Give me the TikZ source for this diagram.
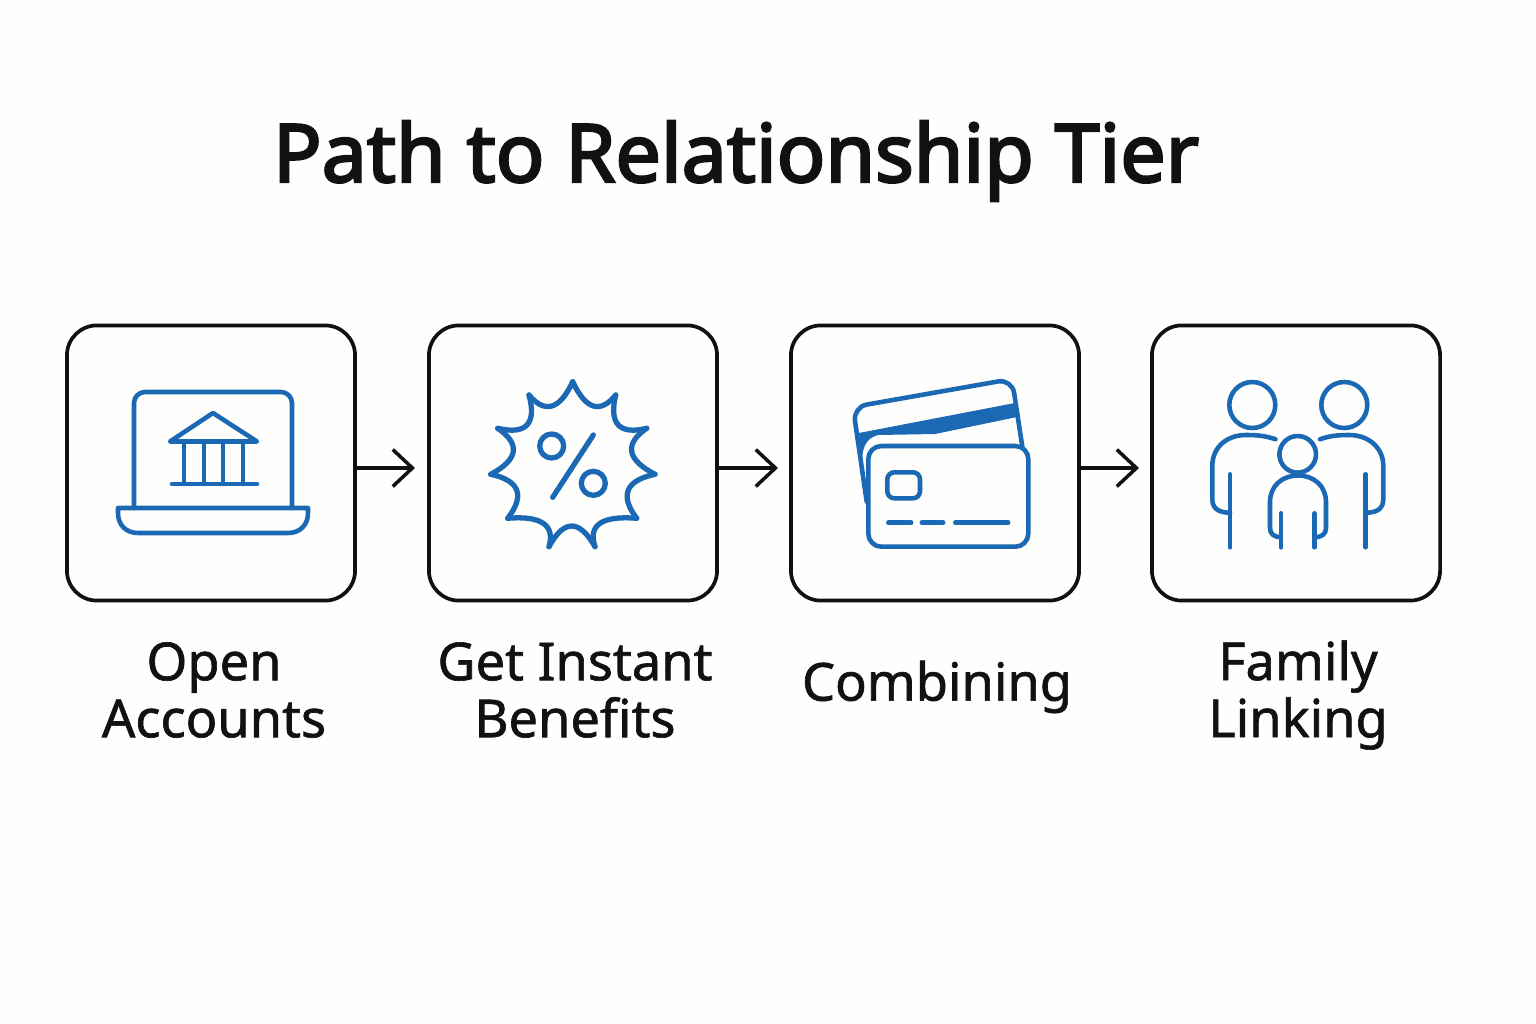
\documentclass[tikz,border=0pt]{standalone}
\usepackage{fontspec}
\setmainfont{Noto Sans}
\newfontfamily\labelfont[FakeBold=1.2]{Noto Sans}
\newfontfamily\titlefont[FakeBold=3]{Noto Sans}
\usetikzlibrary{arrows.meta}
\usetikzlibrary{calc}
\usetikzlibrary{positioning}
\definecolor{paper}{HTML}{FEFEFC}
\definecolor{iconblue}{HTML}{1B69B4}
\definecolor{ink}{HTML}{111111}
\tikzset{
	stepbox/.style={draw=ink, line width=1.05pt, rounded corners=0.3cm, minimum width=2.88cm, minimum height=2.75cm, inner sep=0pt},
	steplabel/.style={text=ink, font=\labelfont\fontsize{14.9}{16.2}\selectfont, align=center, inner sep=0pt},
	flow/.style={draw=ink, line width=0.9pt, -{Straight Barb[length=5.6pt, width=10.5pt, line width=1pt]}},
	icon/.style={draw=iconblue, line width=1.3pt, line cap=round, line join=round},
}
\begin{document}
\begin{tikzpicture}[x=0.01cm, y=-0.01cm]
	\fill[paper] (0,0) rectangle (1536,1024);
	\node[text=ink, font=\titlefont\fontsize{22.9}{27}\selectfont, inner sep=0pt] (title) at (736,161) {Path to Relationship Tier};

	\node[stepbox] (box1) at (211,463) {};
	\node[stepbox] (box2) at (573,463) {};
	\node[stepbox] (box3) at (935,463) {};
	\node[stepbox] (box4) at (1296,463) {};

	\node[steplabel] (lbl1) at (214,690) {Open\\Accounts};
	\node[steplabel] (lbl2) at (575,690) {Get Instant\\Benefits};
	\node[steplabel] (lbl3) at (937,687) {Combining};
	\node[steplabel] (lbl4) at (1298,695) {Family\\Linking};

	\coordinate (end1) at (415,468);
	\coordinate (end2) at (778,468);
	\coordinate (end3) at (1139,468);
	\draw[flow] (box1.east |- end1) -- (end1);
	\draw[flow] (box2.east |- end2) -- (end2);
	\draw[flow] (box3.east |- end3) -- (end3);

	% laptop with bank
	\begin{scope}[icon]
		\draw[rounded corners=0.11cm] (134,508) -- (134,392) -- (292,392) -- (292,508);
		\draw (118,508) -- (118,513) .. controls (118,525) and (126,533) .. (138,533) -- (288,533) .. controls (300,533) and (308,525) .. (308,513) -- (308,508) -- cycle;
		\draw (213,413) -- (170,441.5) -- (257,441.5) -- cycle;
		\foreach \x in {184,204,223,243}
			\draw (\x,441.5) -- (\x,484);
		\draw (172,484) -- (257,484);
	\end{scope}

	% burst with percent sign
	\begin{scope}[icon, line width=1.5pt]
		\foreach \ax/\ay/\vx/\vy/\bx/\by in {
			572.7/381.7/593.3/406/615.7/395,
			615.7/395/618.3/425/646.7/428.3,
			646.7/428.3/631.7/451.7/655/474.3,
			655/474.3/628.3/490/636.7/518.3,
			636.7/518.3/600/523.3/595/546.7,
			595/546.7/571.7/526/549/546.7,
			549/546.7/543.3/523.3/507.7/518.3,
			507.7/518.3/516.7/490/490.7/474.3,
			490.7/474.3/513.3/451.7/497.7/428.3,
			497.7/428.3/527/425/529/395,
			529/395/552/406/572.7/381.7}
			{
			\coordinate (dip) at ($(\vx,\vy)!-0.33!($(\ax,\ay)!0.5!(\bx,\by)$)$);
			\draw (\ax,\ay) .. controls ($(dip)+({0.17*(\ax-\bx)},{0.17*(\ay-\by)})$) and ($(dip)-({0.17*(\ax-\bx)},{0.17*(\ay-\by)})$) .. (\bx,\by);
			}
		\draw (551.7,446) circle[radius=12];
		\draw (593.3,483.3) circle[radius=12];
		\draw (593.3,435) -- (552.7,497.3);
	\end{scope}

	% cards
	\begin{scope}[icon]
		\fill[iconblue] (859,433) -- (1015,403) -- (1017,417) -- (935,434) -- (878,435) .. controls (866,438) and (862,448) .. (862,462) -- (866,500) -- cycle;
		\draw[rounded corners=0.14cm] (866.7,501.7) -- (853,407) -- (1012,379) -- (1022.3,446.7);
		\draw[rounded corners=0.13cm] (868.3,446) rectangle (1028.3,546.7);
		\draw[rounded corners=0.07cm] (887.3,472.3) rectangle (920,498.3);
		\draw[line width=1.4pt] (888.5,522.7) -- (911,522.7);
		\draw[line width=1.4pt] (922,522.7) -- (943,522.7);
		\draw[line width=1.4pt] (955.5,522.7) -- (1008,522.7);
	\end{scope}

	% family
	\begin{scope}[icon]
		\draw (1252.3,405) circle[radius=23];
		\draw (1344.3,405) circle[radius=23];
		\draw (1297.7,454.3) circle[radius=18.3];
		\draw (1275.5,439.3) .. controls (1266,436) and (1258,435) .. (1246,435) .. controls (1226,435) and (1212.3,448) .. (1212.3,466) -- (1212.3,499) .. controls (1212.3,508) and (1218,512.7) .. (1230,512.7);
		\draw (1230,474.3) -- (1230,547.3);
		\draw (1320,439.3) .. controls (1329,436) and (1337,435) .. (1349,435) .. controls (1369,435) and (1383.3,448) .. (1383.3,466) -- (1383.3,499) .. controls (1383.3,508) and (1378,512.7) .. (1365.7,512.7);
		\draw (1365.7,474.3) -- (1365.7,547.3);
		\draw (1281,537.3) .. controls (1274,537) and (1270,534) .. (1270,528) -- (1270,502) .. controls (1270,486) and (1282,475.5) .. (1298,475.5) .. controls (1314,475.5) and (1326,486) .. (1326,502) -- (1326,528) .. controls (1326,534) and (1322,537) .. (1314.5,537.3);
		\draw (1281,513.3) -- (1281,547.3);
		\draw (1314.5,513.3) -- (1314.5,547.3);
	\end{scope}
\end{tikzpicture}
\end{document}
